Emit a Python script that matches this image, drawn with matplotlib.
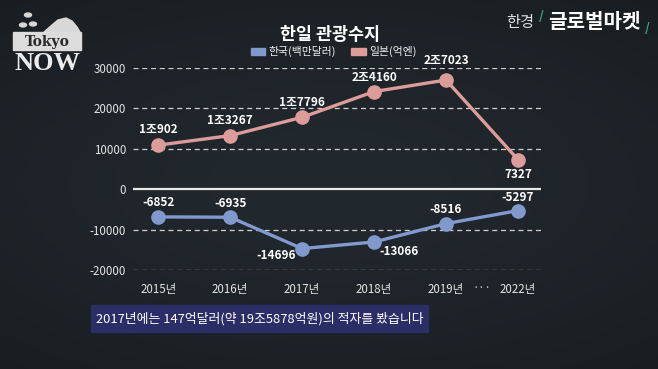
import numpy as np
import matplotlib
matplotlib.use("Agg")
import matplotlib.pyplot as plt
from matplotlib.patches import Rectangle, Polygon, Circle

plt.rcParams["font.family"] = ["Noto Sans CJK KR", "DejaVu Sans"]

# -------------------- DATA --------------------
years = ["2015년", "2016년", "2017년", "2018년", "2019년", "2022년"]
korea = [-6852, -6935, -14696, -13066, -8516, -5297]      # 백만달러
japan = [10902, 13267, 17796, 24160, 27023, 7327]         # 억엔
japan_labels = ["1조902", "1조3267", "1조7796", "2조4160", "2조7023", "7327"]
korea_labels = ["-6852", "-6935", "-14696", "-13066", "-8516", "-5297"]
yticks = [30000, 20000, 10000, 0, -10000, -20000]

KOR_C = "#8199cc"
JPN_C = "#dc9c9a"
BG = "#232a2f"

W, H = 658, 369


def px(x, y):
    return x / W, 1 - y / H


fig = plt.figure(figsize=(W / 100, H / 100), dpi=100)
fig.patch.set_facecolor(BG)

# subtle vignette background
bg = fig.add_axes([0, 0, 1, 1], zorder=-10)
gx, gy = np.meshgrid(np.linspace(-1, 1, 200), np.linspace(-1, 1, 120))
r = np.sqrt((gx * 0.9) ** 2 + (gy * 1.1) ** 2)
base = np.array([0x21, 0x28, 0x2d]) / 255
shade = np.clip(1.08 - 0.24 * r, 0, 1)[..., None] * base[None, None, :]
bg.imshow(shade, aspect="auto", extent=[0, 1, 0, 1])
bg.set_xlim(0, 1)
bg.set_ylim(0, 1)
bg.axis("off")

# -------------------- CHART --------------------
left, right = 133, 541
top, bottom = 68, 270
ax = fig.add_axes([left / W, 1 - bottom / H, (right - left) / W, (bottom - top) / H])
ax.set_facecolor("none")
x = np.arange(len(years))
ax.set_xlim(-0.35, 5.32)
ax.set_ylim(-20000, 30000)

for v in yticks:
    if v == 0:
        ax.axhline(0, color="#e8e8e8", lw=1.6, zorder=1)
    else:
        ax.axhline(v, color="#d0d0d0", lw=0.9, ls=(0, (4, 3)), zorder=1)

ax.plot(x, japan, color=JPN_C, lw=2.4, marker="o", ms=9.5, zorder=3, clip_on=False)
ax.plot(x, korea, color=KOR_C, lw=2.4, marker="o", ms=9.5, zorder=3, clip_on=False)

lab_kw = dict(color="white", fontsize=8.5, fontweight="bold", ha="center",
              va="center", textcoords="offset points")
jpn_off = [(0, 11), (0, 11), (0, 11), (0, 10), (0, 14), (0, -11)]
for i, (v, t) in enumerate(zip(japan, japan_labels)):
    ax.annotate(t, (x[i], v), xytext=jpn_off[i], **lab_kw)

kor_off = [(0, 10), (0, 10), (-19, -5), (18, -7), (0, 10), (0, 9.5)]
for i, (v, t) in enumerate(zip(korea, korea_labels)):
    ax.annotate(t, (x[i], v), xytext=kor_off[i], **lab_kw)

ax.set_yticks(yticks)
ax.set_yticklabels([str(v) for v in yticks])
ax.set_xticks(x)
ax.set_xticklabels(years)
ax.tick_params(colors="#e4e4e4", labelsize=8.3, length=0)
ax.tick_params(axis="y", pad=5)
ax.tick_params(axis="x", pad=9)
for s in ax.spines.values():
    s.set_visible(False)
ax.annotate("···", (4.5, -20000), xytext=(0, -9), textcoords="offset points",
            color="#d0d0d0", fontsize=8, ha="center", va="top")

# -------------------- TITLE / LEGEND --------------------
fig.text(*px(330, 35), "한일 관광수지", color="white", fontsize=12.5,
         fontweight="bold", ha="center", va="center")
fig.patches.append(Rectangle(px(251, 55), 14 / W, 7 / H, transform=fig.transFigure,
                             color=KOR_C))
fig.text(*px(268, 51), "한국(백만달러)", color="#eeeeee", fontsize=7.8,
         ha="left", va="center")
fig.patches.append(Rectangle(px(351, 55), 15 / W, 7 / H, transform=fig.transFigure,
                             color=JPN_C))
fig.text(*px(369, 51), "일본(억엔)", color="#eeeeee", fontsize=7.8,
         ha="left", va="center")

# -------------------- CAPTION --------------------
fig.patches.append(Rectangle(px(91, 332), 337 / W, 27 / H, transform=fig.transFigure,
                             color="#2b2e66"))
fig.text(*px(259.5, 318.5), "2017년에는 147억달러(약 19조5878억원)의 적자를 봤습니다",
         color="white", fontsize=9.3, ha="center", va="center")

# -------------------- LOGOS --------------------
# Tokyo NOW
fig.patches.append(Polygon([px(44, 32), px(52, 25), px(58, 20), px(66, 18),
                            px(72, 21), px(77, 27), px(80, 32)], closed=True,
                           transform=fig.transFigure, color="#d8d8d8"))
for cx, cy in [(28, 15), (23, 25), (33, 24)]:
    fig.patches.append(Circle(px(cx, cy), 3.5 / W, transform=fig.transFigure,
                              color="#d8d8d8"))
fig.patches.append(Rectangle(px(13, 50), 68 / W, 18 / H, transform=fig.transFigure,
                             color="#dcdcdc"))
fig.text(*px(47, 42), "Tokyo", color="#2a2a2a", fontsize=10,
         family="DejaVu Serif", fontweight="bold", ha="center", va="center")
fig.text(*px(47, 63.5), "NOW", color="#ececec", fontsize=19,
         family="Liberation Serif", fontweight="bold", ha="center", va="center")

# 한경 글로벌마켓
fig.text(*px(520, 22), "한경", color="#e0e0e0", fontsize=11, ha="center", va="center")
fig.text(*px(541, 17), "/", color="#3da37a", fontsize=9, fontweight="bold",
         ha="center", va="center")
fig.text(*px(594, 22), "글로벌마켓", color="white", fontsize=14.5,
         fontweight="bold", ha="center", va="center")
fig.text(*px(647, 29), "/", color="#3da37a", fontsize=9, fontweight="bold",
         ha="center", va="center")

fig.savefig("out.png", dpi=100, facecolor=fig.get_facecolor())
